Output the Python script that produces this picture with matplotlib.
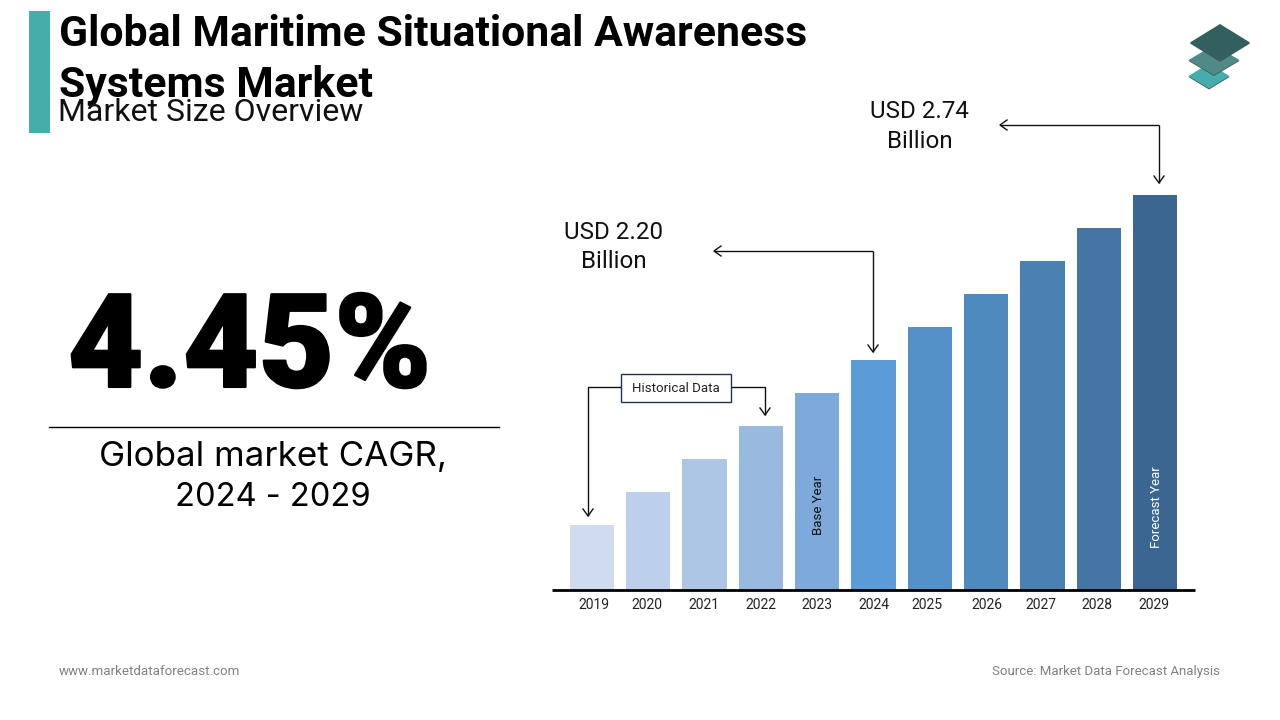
import matplotlib
matplotlib.use("Agg")
import matplotlib.pyplot as plt
import matplotlib.patheffects as pe
from matplotlib.patches import Polygon, Rectangle
from matplotlib.transforms import ScaledTranslation

years = ["2019","2020","2021","2022","2023","2024","2025","2026","2027","2028","2029"]
values = [1.660,1.768,1.876,1.984,2.092,2.20,2.308,2.416,2.524,2.632,2.74]
colors = ["#CFDCEF","#BDD0EB","#ADC6E6","#99B9DF","#7DA9DB","#5B9BD7","#5490C8","#4F8ABF","#4A80B2","#4475A3","#3A6691"]
label_shift = [2,-1,-1,0,0,0,-3,1,-2,-2,-1]
subtitle = "Market Size Overview"

W, H = 1280, 720
fig = plt.figure(figsize=(12.8, 7.2), dpi=100, facecolor="white")
plt.rcParams['font.family'] = ['Roboto', 'DejaVu Sans']

ov = fig.add_axes([0, 0, 1, 1], zorder=5)
ov.set_xlim(0, W); ov.set_ylim(H, 0); ov.axis("off"); ov.patch.set_alpha(0)

ax = fig.add_axes([552/W, 1-590/H, (1195-552)/W, (590-150)/H], zorder=1)
base = 1.4473
ax.bar(range(len(years)), [v-base for v in values], bottom=base, width=0.785, color=colors)
ax.set_xlim(-0.71, 10.71)
ax.set_ylim(base, base + 440*0.54/165)
for s in ("top","left","right"):
    ax.spines[s].set_visible(False)
ax.spines["bottom"].set_linewidth(2)
ax.spines["bottom"].set_color("black")
ax.spines["bottom"].set_capstyle("butt")
ax.set_yticks([])
ax.set_xticks(range(len(years)))
ax.set_xticklabels(years, fontsize=10, color="#222222")
ax.tick_params(axis="x", length=0, pad=5.5)
for lab, dx in zip(ax.get_xticklabels(), label_shift):
    lab.set_transform(lab.get_transform() + ScaledTranslation(dx/100, 0, fig.dpi_scale_trans))
ax.patch.set_alpha(0)

# header
ov.add_patch(Rectangle((29, 11), 21, 122, color="#45ADAA", lw=0))
ov.text(59, 34, "Global Maritime Situational Awareness", fontsize=30.8, fontweight="bold", va="center", color="black")
ov.text(59, 85, "Systems Market", fontsize=30.8, fontweight="bold", va="center", color="black")
ov.text(58, 112.5, subtitle, fontsize=23, va="center", color="#111111")

# bar notes
ov.text(818, 505, "Base Year", rotation=90, ha="center", va="center", fontsize=9.5, color="#111111")
ov.text(1157, 507, "Forecast Year", rotation=90, ha="center", va="center", fontsize=9.5, color="white")

# logo
def diamond(cx, cy, hw, hh, c, shadow="#4a5c5c"):
    ov.add_patch(Polygon([(cx-hw, cy+1), (cx, cy-hh+1), (cx+hw, cy+1), (cx, cy+hh+1)], closed=True, color=shadow, lw=0))
    ov.add_patch(Polygon([(cx-hw, cy), (cx, cy-hh), (cx+hw, cy), (cx, cy+hh)], closed=True, color=c, lw=0, joinstyle="round"))
diamond(1209, 76, 20.5, 12.5, "#45ADAD")
diamond(1214, 60, 25.5, 15, "#4F8A87")
diamond(1220, 42.5, 30, 18.5, "#32605E")

# left KPI
kpi = ov.text(249.5, 351, "4.45%", fontsize=94, fontweight="black", family=["Roboto"], ha="center", va="center", color="black")
kpi.set_path_effects([pe.withStroke(linewidth=1.5, foreground="black")])
ov.plot([49, 499], [427, 427], color="black", lw=1)
ov.text(273, 456.5, "Global market CAGR,", fontsize=25.2, family=["Inter","Roboto"], ha="center", va="center", color="black")
ov.text(273, 497, "2024 - 2029", fontsize=23.5, family=["Inter","Roboto"], ha="center", va="center", color="black")

# callouts
INK = "#111111"
def route(xs, ys):
    ov.plot(xs, ys, color=INK, lw=1, solid_capstyle="butt", solid_joinstyle="miter")
    x0, y0, x1, y1 = xs[-2], ys[-2], xs[-1], ys[-1]
    if x0 == x1:
        ov.plot([x1-5, x1, x1+5], [y1-7, y1, y1-7], color=INK, lw=1)
    else:
        ov.plot([x1+7, x1, x1+7], [y1-5, y1, y1+5], color=INK, lw=1)

ov.text(919.5, 112, "USD 2.74", fontsize=17.4, ha="center", va="center", color=INK)
ov.text(919.5, 141, "Billion", fontsize=17.4, ha="center", va="center", color=INK)
route([1159, 1159], [125, 183])
route([1159, 1000], [125, 125])

ov.text(613.5, 232.5, "USD 2.20", fontsize=17.4, ha="center", va="center", color=INK)
ov.text(613.5, 261.5, "Billion", fontsize=17.4, ha="center", va="center", color=INK)
route([873, 873], [251, 352])
route([873, 714], [251, 251])

ov.add_patch(Rectangle((621, 373.5), 109.5, 28, fc="white", ec="#1F3552", lw=1, zorder=4))
ov.text(676, 388, "Historical Data", fontsize=9.5, ha="center", va="center", color="#222222", zorder=5)
route([621, 588, 588], [387, 387, 516])
route([731, 765, 765], [387, 387, 415])

# footer
ov.text(59, 671.5, "www.marketdataforecast.com", fontsize=9.6, va="center", color="#808080")
ov.text(1220, 671.5, "Source: Market Data Forecast Analysis", fontsize=9.55, va="center", ha="right", color="#808080")

fig.savefig("out.png", dpi=100)
